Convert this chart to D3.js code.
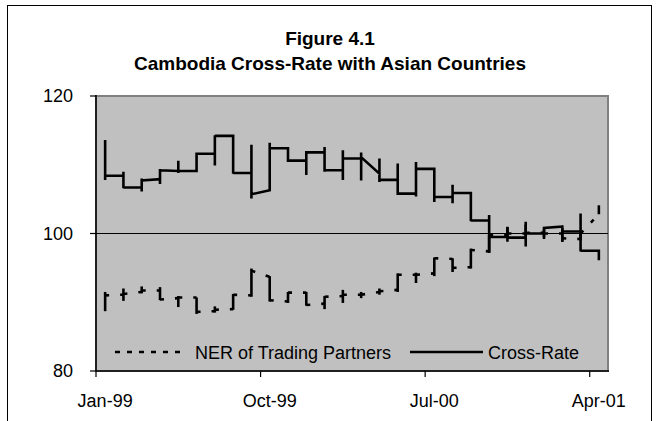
<!DOCTYPE html>
<html><head><meta charset="utf-8">
<script src="https://cdn.jsdelivr.net/npm/d3@7"></script>
<style>body{margin:0;background:#fff}svg{display:block}</style>
</head><body><svg id="c" width="662" height="421"></svg>
<script>
const months = ["Jan-99","Feb-99","Mar-99","Apr-99","May-99","Jun-99","Jul-99","Aug-99","Sep-99","Oct-99","Nov-99","Dec-99",
  "Jan-00","Feb-00","Mar-00","Apr-00","May-00","Jun-00","Jul-00","Aug-00","Sep-00","Oct-00","Nov-00","Dec-00",
  "Jan-01","Feb-01","Mar-01","Apr-01"];
const tickLabels = ["Jan-99","Oct-99","Jul-00","Apr-01"];
const yTicks = [80, 100, 120];
// values observed within each month, in order (month-level view of daily data)
const crossRate = [
  [113.6,107.8,108.4],[108.4,109.0,106.6,106.7],[106.7,108.0,106.1,107.7],[107.9,107.2,109.4,109.2],
  [109.1,110.6,108.8,109.1],[109.1,111.8,111.6],[111.6,109.9,114.3,114.2],[114.2,114.1,108.7,108.8],
  [108.8,112.9,105.1,105.7],[106.3,113.2,112.4],[112.4,110.4,110.6],[110.6,108.5,111.8],
  [111.8,112.6,109.0,109.2],[109.2,107.8,112.1,110.9],[110.9,107.7,111.8,111.1],[108.7,110.9,107.5,107.8],
  [107.8,110.2,105.6,105.8],[105.8,105.4,110.4,109.4],[109.4,104.6,105.3],[105.3,104.4,107.1,105.9],
  [105.9,101.8,101.9],[101.9,102.7,97.2,99.5],[99.5,101.0,98.8,99.4],[99.4,101.7,98.1,100.0],
  [100.0,99.2,100.8],[101.0,101.2,98.8,100.3],[100.3,102.9,97.4,97.5],[97.5,96.1]
];
const ner = [
  [88.7,91.5,91.0],[91.1,92.0,90.2,91.2],[91.5,92.3,91.3,91.7],[91.7,92.2,90.3,90.4],
  [90.6,89.3,90.9,90.7],[90.7,88.3,88.6],[88.7,89.4,88.5,88.9],[89.0,88.9,91.2,91.1],
  [91.0,90.8,94.9,94.6],[93.7,93.8,90.1,90.3],[90.1,89.9,91.5,91.4],[91.4,91.5,89.5,89.6],
  [89.8,89.0,90.9,90.8],[90.9,89.9,91.8,91.1],[91.1,90.6,91.5,91.1],[91.5,92.0,91.1,91.6],
  [91.8,91.5,94.2,94.0],[94.0,94.3,92.8,94.0],[94.2,93.8,96.5,96.4],[96.3,96.4,94.4,95.0],
  [95.1,94.9,97.8,97.6],[97.4,97.2,99.6,99.8],[99.8,100.9,99.5,100.0],[100.0,101.3,99.3,100.1],
  [100.1,99.5,100.6,100.0],[100.0,98.8,100.9,99.3],[99.2,100.2,99.0,100.0],[102.8,104.1]
];
const seriesNames = ["NER of Trading Partners","Cross-Rate"];

const svg = d3.select("#c");
const font = "'Liberation Sans', Arial, sans-serif";
const L = 96, R = 608, T = 96, B = 371;

svg.append("rect").attr("width",662).attr("height",421).attr("fill","#fff");
svg.append("rect").attr("x",7.5).attr("y",5.5).attr("width",644).attr("height",440)
  .attr("fill","none").attr("stroke","#000").attr("stroke-width",1);

svg.append("text").attr("x",330).attr("y",45).attr("text-anchor","middle")
  .attr("font-family",font).attr("font-weight","bold").attr("font-size",19).text("Figure 4.1");
svg.append("text").attr("x",330).attr("y",70).attr("text-anchor","middle")
  .attr("font-family",font).attr("font-weight","bold").attr("font-size",19).text("Cambodia Cross-Rate with Asian Countries");

const x = d3.scaleBand().domain(months).range([L, R]).padding(0);
const bw = x.bandwidth();
const cx = m => x(m) + bw/2;
const y = d3.scaleLinear().domain([80,120]).range([B, T]);

// plot area
svg.append("rect").attr("x",L).attr("y",T).attr("width",R-L).attr("height",B-T)
  .attr("fill","#c0c0c0").attr("stroke","#808080").attr("stroke-width",2);

// gridline at 100
svg.append("line").attr("x1",L).attr("x2",R).attr("y1",y(100)).attr("y2",y(100))
  .attr("stroke","#000").attr("stroke-width",1.2);

// axes
svg.append("line").attr("x1",L).attr("x2",L).attr("y1",T-1).attr("y2",B).attr("stroke","#000").attr("stroke-width",1.5);
svg.append("line").attr("x1",L).attr("x2",R+1).attr("y1",B).attr("y2",B).attr("stroke","#000").attr("stroke-width",1.5);
yTicks.forEach(t=>{
  svg.append("line").attr("x1",L-6).attr("x2",L).attr("y1",y(t)).attr("y2",y(t)).attr("stroke","#000").attr("stroke-width",1.2);
  svg.append("text").attr("x",73).attr("y",y(t)+6).attr("text-anchor","end")
    .attr("font-family",font).attr("font-size",18).text(t);
});
tickLabels.forEach(t=>{
  svg.append("line").attr("x1",x(t)).attr("x2",x(t)).attr("y1",B).attr("y2",B+6).attr("stroke","#000").attr("stroke-width",1.2);
  svg.append("text").attr("x",cx(t)).attr("y",407).attr("text-anchor","middle")
    .attr("font-family",font).attr("font-size",18).text(t);
});

// NER: monthly ranges + dashed connectors (dash pattern restarts each segment)
const g = svg.append("g");
ner.forEach((vals,i)=>{
  const m = months[i];
  g.append("line").attr("x1",cx(m)).attr("x2",cx(m))
    .attr("y1",y(d3.max(vals))).attr("y2",y(d3.min(vals)))
    .attr("stroke","#000").attr("stroke-width",2.6);
  if(i < ner.length-1){
    const n = months[i+1];
    g.append("line").attr("x1",cx(m)).attr("x2",cx(n))
      .attr("y1",y(vals[vals.length-1])).attr("y2",y(ner[i+1][0]))
      .attr("stroke","#000").attr("stroke-width",2.6).attr("stroke-dasharray","4,11");
  }
});

// Cross-rate
const pts = [];
crossRate.forEach((vals,i)=>vals.forEach(v=>pts.push({m:months[i], v})));
const line = d3.line().x(d=>cx(d.m)).y(d=>y(d.v));
svg.append("path").datum(pts).attr("d",line).attr("fill","none")
  .attr("stroke","#000").attr("stroke-width",2.6).attr("stroke-linejoin","miter");

// legend
const ly = 352;
svg.append("line").attr("x1",115).attr("x2",182).attr("y1",ly).attr("y2",ly)
  .attr("stroke","#000").attr("stroke-width",2.6).attr("stroke-dasharray","5,7");
svg.append("text").attr("x",195).attr("y",ly+6.5).attr("font-family",font).attr("font-size",18).text(seriesNames[0]);
svg.append("line").attr("x1",410).attr("x2",483).attr("y1",ly).attr("y2",ly)
  .attr("stroke","#000").attr("stroke-width",2.6);
svg.append("text").attr("x",488).attr("y",ly+6.5).attr("font-family",font).attr("font-size",18).text(seriesNames[1]);
</script></body></html>
